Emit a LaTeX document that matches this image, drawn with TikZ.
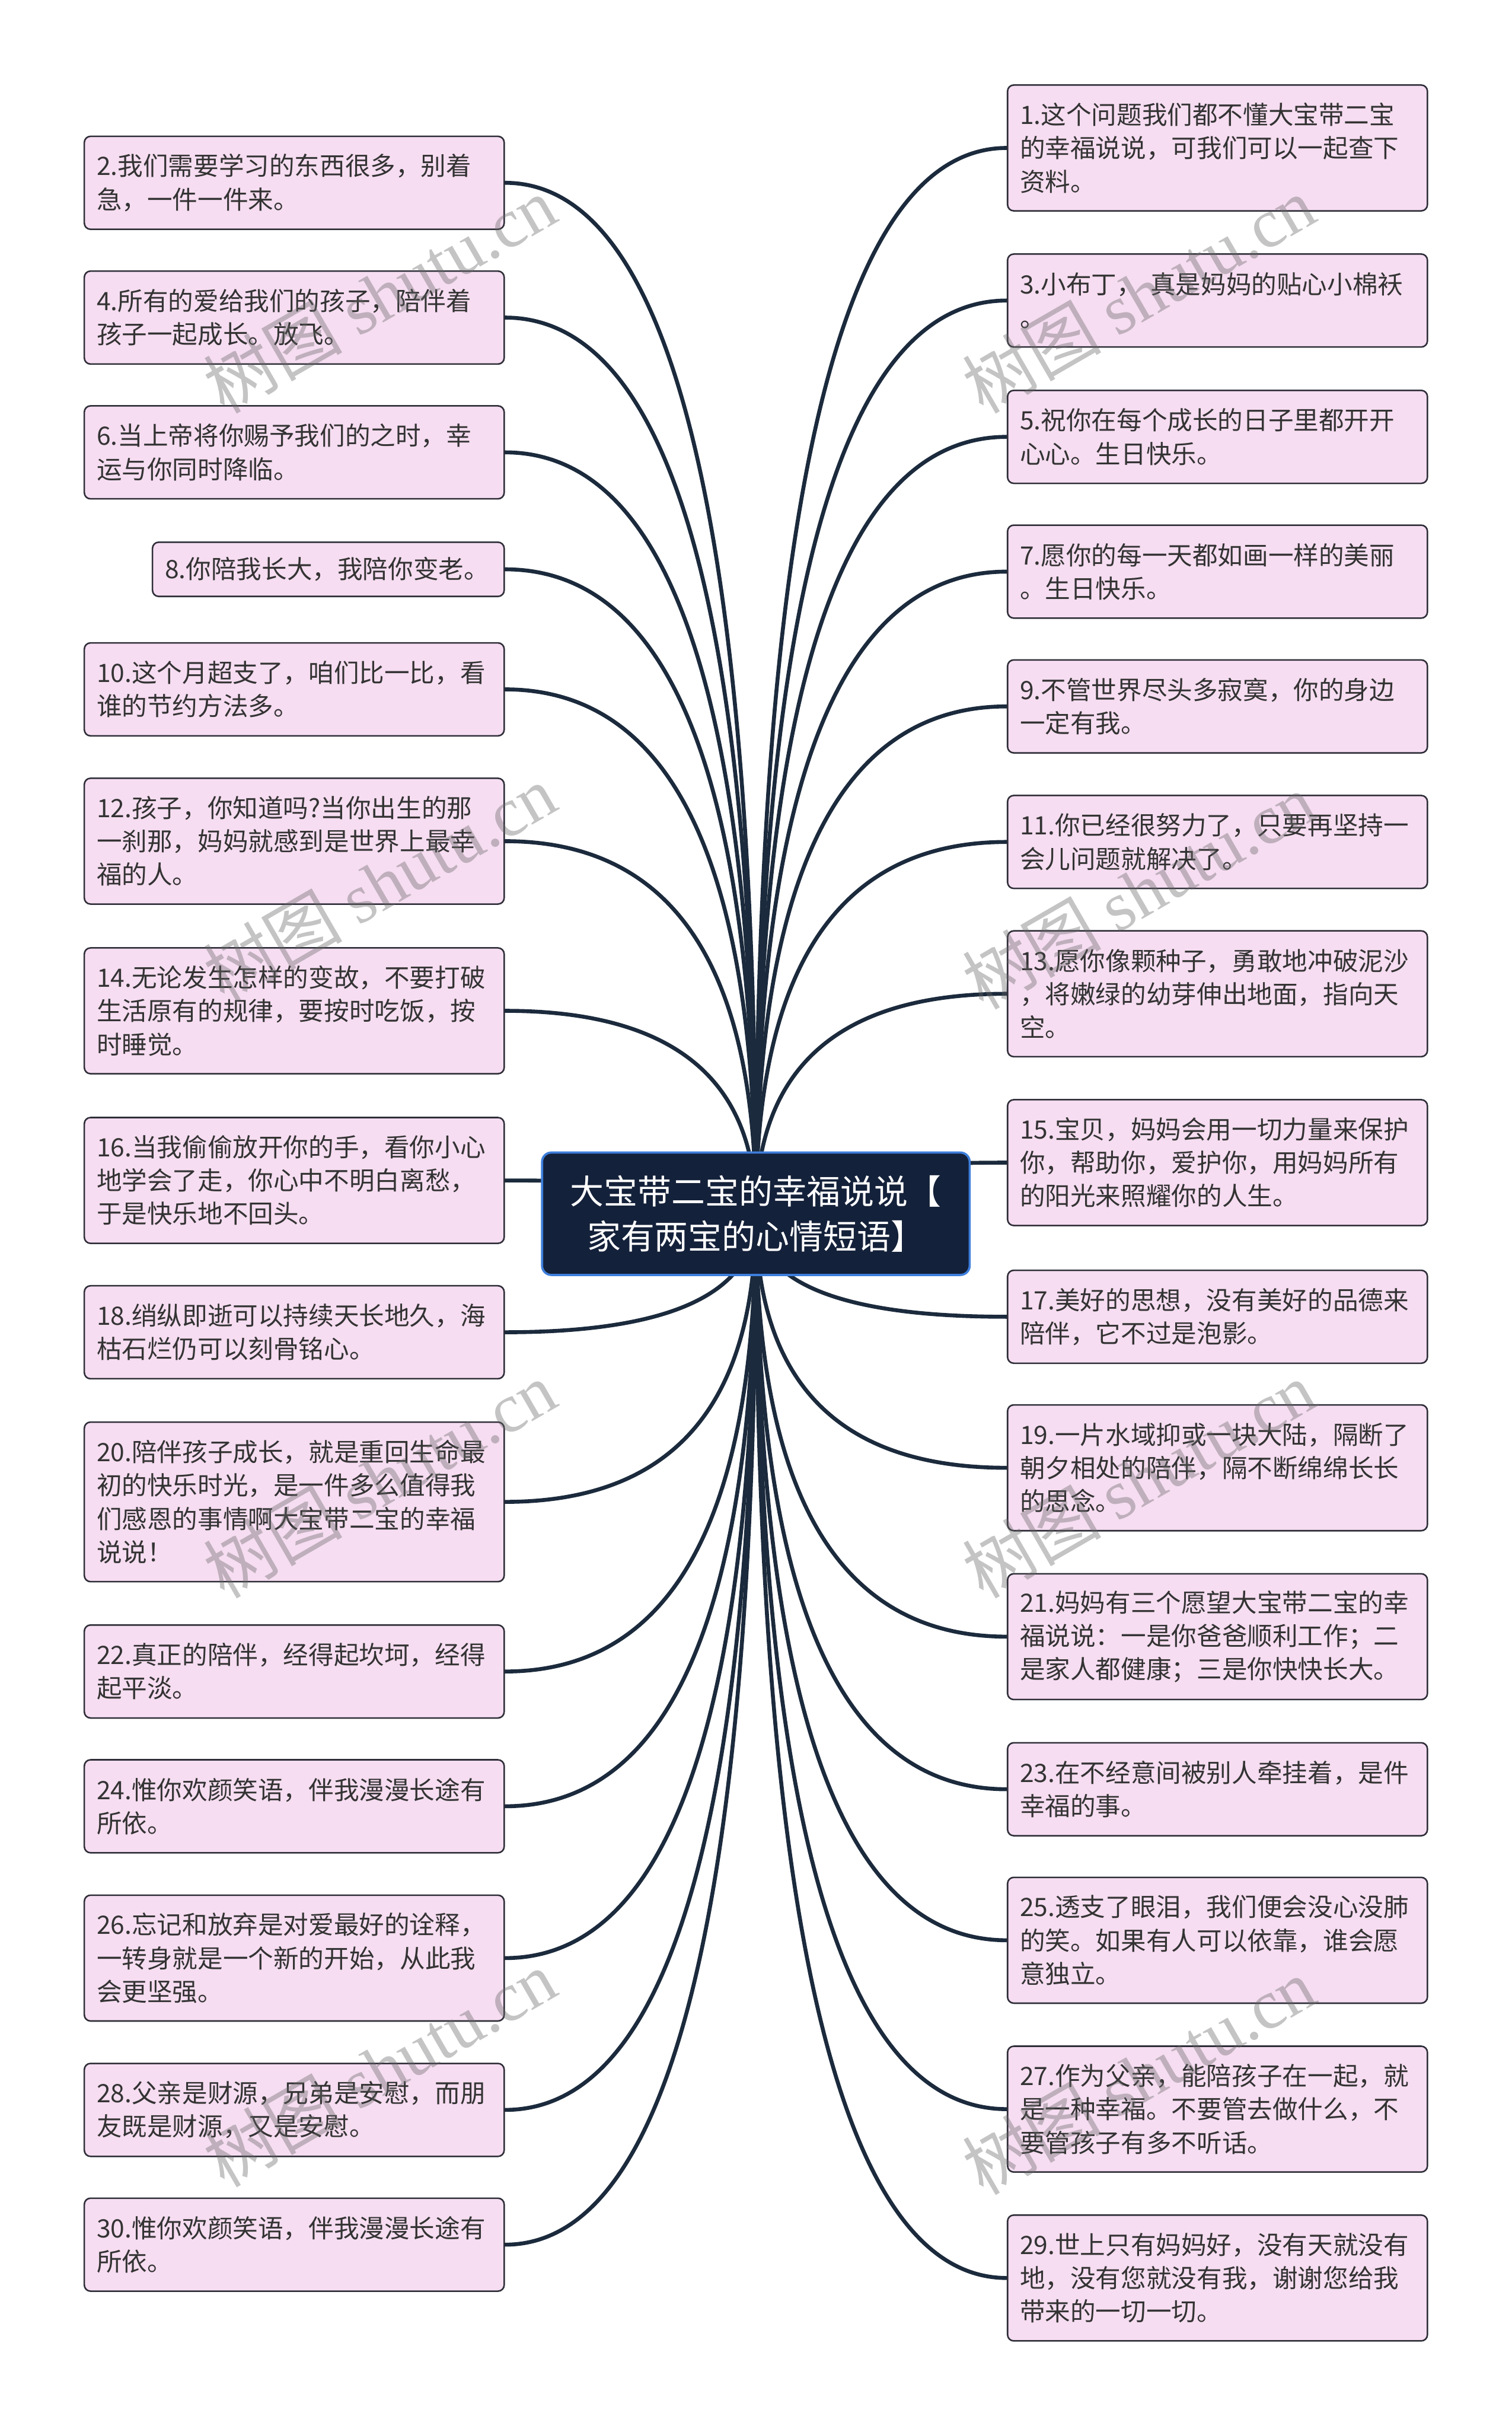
\documentclass[tikz,border=0pt]{standalone}
\usepackage{fontspec}
\setmainfont{Noto Sans CJK SC}
\newfontfamily\wmserif{Liberation Serif}
\usepackage{xcolor}
\definecolor{leafBack} {HTML}{F6DDF1}
\definecolor{leafLine} {HTML}{2E2E38}
\definecolor{leafText} {HTML}{333333}
\definecolor{rootBack} {HTML}{14213A}
\definecolor{rootLine} {HTML}{3D7EDB}
\definecolor{linkColor}{HTML}{1B2A3C}
\usetikzlibrary{calc}
\pgfdeclarelayer{paper}
\pgfdeclarelayer{links}
\pgfsetlayers{paper,links,main}
\newcommand\boxfont{\fontsize{11.6pt}{15.3pt}\selectfont}
\newcommand\rootfont{\fontsize{15.5pt}{20.6pt}\selectfont}
\tikzset{
    leaf/.style={draw=leafLine, line width=0.7pt, fill=leafBack,
                 rounded corners=0.1cm, inner xsep=0.2cm, inner ysep=0pt,
                 text width=6.375cm, align=left, font=\boxfont, text=leafText},
    lbox/.style={leaf, anchor=east},
    rbox/.style={leaf, anchor=west},
    oneline/.style={minimum height=0.875cm},
    twoline/.style={minimum height=1.5cm},
    threeline/.style={minimum height=2.03cm},
    fourline/.style={minimum height=2.575cm},
    rootbox/.style={draw=rootLine, line width=1pt, fill=rootBack,
                    rounded corners=0.15cm, minimum width=6.9cm,
                    minimum height=1.975cm, align=center, font=\rootfont,
                    text=white},
    branch/.style={line width=1.8pt, linkColor, line cap=round,
        to path={.. controls ($(\tikztostart)!2/3!(\tikztostart |- \tikztotarget)$)
                 and ($(\tikztotarget)!2/3!(\tikztostart |- \tikztotarget)$)
                 .. (\tikztotarget)}},
    wmark/.style={rotate=30, font=\fontsize{32pt}{32pt}\selectfont,
                  text=black!60, text opacity=0.38},
}
\begin{document}
\begin{tikzpicture}[x=0.025cm, y=-0.025cm]
\useasboundingbox (0,0) rectangle (976,1568);
\begin{pgfonlayer}{paper}
\fill[white] (0,0) rectangle (976,1568);
\end{pgfonlayer}

% --- centre ---
\node[rootbox] (root) at (488,783.5) {大宝带二宝的幸福说说【\\家有两宝的心情短语】};

% --- LEFT column ---
\node[lbox, twoline] (s2) at (326,118) {2.我们需要学习的东西很多，别着\\急，一件一件来。};
\node[lbox, twoline] (s4) at (326,205) {4.所有的爱给我们的孩子，陪伴着\\孩子一起成长。放飞。};
\node[lbox, twoline] (s6) at (326,292) {6.当上帝将你赐予我们的之时，幸\\运与你同时降临。};
\node[lbox, oneline, text width=5.275cm] (s8) at (326,367.5) {8.你陪我长大，我陪你变老。};
\node[lbox, twoline] (s10) at (326,445) {10.这个月超支了，咱们比一比，看\\谁的节约方法多。};
\node[lbox, threeline] (s12) at (326,543) {12.孩子，你知道吗?当你出生的那\\一刹那，妈妈就感到是世界上最幸\\福的人。};
\node[lbox, threeline] (s14) at (326,652.5) {14.无论发生怎样的变故，不要打破\\生活原有的规律，要按时吃饭，按\\时睡觉。};
\node[lbox, threeline] (s16) at (326,762) {16.当我偷偷放开你的手，看你小心\\地学会了走，你心中不明白离愁，\\于是快乐地不回头。};
\node[lbox, twoline] (s18) at (326,860) {18.绡纵即逝可以持续天长地久，海\\枯石烂仍可以刻骨铭心。};
\node[lbox, fourline] (s20) at (326,969.5) {20.陪伴孩子成长，就是重回生命最\\初的快乐时光，是一件多么值得我\\们感恩的事情啊大宝带二宝的幸福\\说说！};
\node[lbox, twoline] (s22) at (326,1079) {22.真正的陪伴，经得起坎坷，经得\\起平淡。};
\node[lbox, twoline] (s24) at (326,1166) {24.惟你欢颜笑语，伴我漫漫长途有\\所依。};
\node[lbox, threeline] (s26) at (326,1264) {26.忘记和放弃是对爱最好的诠释，\\一转身就是一个新的开始，从此我\\会更坚强。};
\node[lbox, twoline] (s28) at (326,1362) {28.父亲是财源，兄弟是安慰，而朋\\友既是财源，又是安慰。};
\node[lbox, twoline] (s30) at (326,1449) {30.惟你欢颜笑语，伴我漫漫长途有\\所依。};

% --- RIGHT column ---
\node[rbox, threeline] (s1) at (650,95.5) {1.这个问题我们都不懂大宝带二宝\\的幸福说说，可我们可以一起查下\\资料。};
\node[rbox, twoline] (s3) at (650,194) {3.小布丁， 真是妈妈的贴心小棉袄\\。};
\node[rbox, twoline] (s5) at (650,282) {5.祝你在每个成长的日子里都开开\\心心。生日快乐。};
\node[rbox, twoline] (s7) at (650,369) {7.愿你的每一天都如画一样的美丽\\。生日快乐。};
\node[rbox, twoline] (s9) at (650,456) {9.不管世界尽头多寂寞，你的身边\\一定有我。};
\node[rbox, twoline] (s11) at (650,543.5) {11.你已经很努力了，只要再坚持一\\会儿问题就解决了。};
\node[rbox, threeline] (s13) at (650,641.5) {13.愿你像颗种子，勇敢地冲破泥沙\\，将嫩绿的幼芽伸出地面，指向天\\空。};
\node[rbox, threeline] (s15) at (650,750.5) {15.宝贝，妈妈会用一切力量来保护\\你，帮助你，爱护你，用妈妈所有\\的阳光来照耀你的人生。};
\node[rbox, twoline] (s17) at (650,850) {17.美好的思想，没有美好的品德来\\陪伴，它不过是泡影。};
\node[rbox, threeline] (s19) at (650,947.5) {19.一片水域抑或一块大陆，隔断了\\朝夕相处的陪伴，隔不断绵绵长长\\的思念。};
\node[rbox, threeline] (s21) at (650,1056.5) {21.妈妈有三个愿望大宝带二宝的幸\\福说说：一是你爸爸顺利工作；二\\是家人都健康；三是你快快长大。};
\node[rbox, twoline] (s23) at (650,1155) {23.在不经意间被别人牵挂着，是件\\幸福的事。};
\node[rbox, threeline] (s25) at (650,1252.5) {25.透支了眼泪，我们便会没心没肺\\的笑。如果有人可以依靠，谁会愿\\意独立。};
\node[rbox, threeline] (s27) at (650,1361.5) {27.作为父亲，能陪孩子在一起，就\\是一种幸福。不要管去做什么，不\\要管孩子有多不听话。};
\node[rbox, threeline] (s29) at (650,1470.5) {29.世上只有妈妈好，没有天就没有\\地，没有您就没有我，谢谢您给我\\带来的一切一切。};

% --- branches, under the boxes ---
\begin{pgfonlayer}{links}
\draw[branch] (root.center) to (s2.east);
\draw[branch] (root.center) to (s4.east);
\draw[branch] (root.center) to (s6.east);
\draw[branch] (root.center) to (s8.east);
\draw[branch] (root.center) to (s10.east);
\draw[branch] (root.center) to (s12.east);
\draw[branch] (root.center) to (s14.east);
\draw[branch] (root.center) to (s16.east);
\draw[branch] (root.center) to (s18.east);
\draw[branch] (root.center) to (s20.east);
\draw[branch] (root.center) to (s22.east);
\draw[branch] (root.center) to (s24.east);
\draw[branch] (root.center) to (s26.east);
\draw[branch] (root.center) to (s28.east);
\draw[branch] (root.center) to (s30.east);
\draw[branch] (root.center) to (s1.west);
\draw[branch] (root.center) to (s3.west);
\draw[branch] (root.center) to (s5.west);
\draw[branch] (root.center) to (s7.west);
\draw[branch] (root.center) to (s9.west);
\draw[branch] (root.center) to (s11.west);
\draw[branch] (root.center) to (s13.west);
\draw[branch] (root.center) to (s15.west);
\draw[branch] (root.center) to (s17.west);
\draw[branch] (root.center) to (s19.west);
\draw[branch] (root.center) to (s21.west);
\draw[branch] (root.center) to (s23.west);
\draw[branch] (root.center) to (s25.west);
\draw[branch] (root.center) to (s27.west);
\draw[branch] (root.center) to (s29.west);
\end{pgfonlayer}

% --- watermark ---
\foreach \x/\y [count=\i] in {245/190, 735/190, 245/570, 735/575,
                              245/955, 735/955, 245/1335, 735/1340}
    \node[wmark] (wm\i) at (\x,\y) {树图 {\wmserif shutu.cn}};
\end{tikzpicture}
\end{document}
